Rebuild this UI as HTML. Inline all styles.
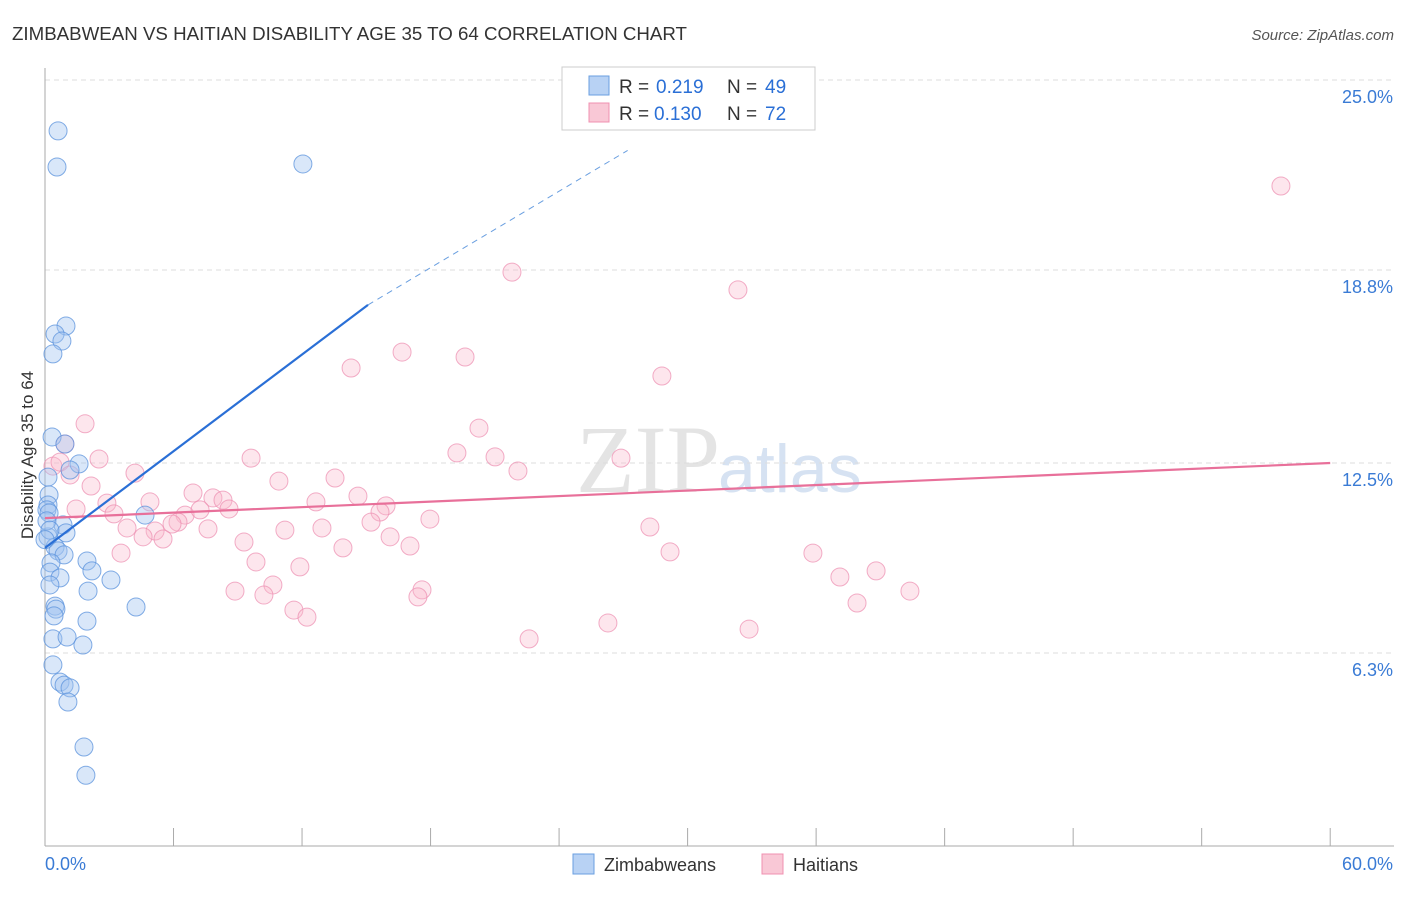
<!DOCTYPE html>
<html><head><meta charset="utf-8"><style>
body{margin:0;background:#fff;font-family:"Liberation Sans",sans-serif}
</style></head><body>
<svg width="1406" height="892" xmlns="http://www.w3.org/2000/svg" font-family="Liberation Sans, sans-serif">
<text x="12" y="40" font-size="18" fill="#333" textLength="675" lengthAdjust="spacingAndGlyphs">ZIMBABWEAN VS HAITIAN DISABILITY AGE 35 TO 64 CORRELATION CHART</text>
<text x="1394" y="40" font-size="15" fill="#555" font-style="italic" text-anchor="end">Source: ZipAtlas.com</text>
<text x="720" y="492" font-size="96" fill="#e4e4e4" font-family="Liberation Serif, serif" text-anchor="end">ZIP</text>
<text x="718" y="492" font-size="68" fill="#d6e2f2">atlas</text>
<g id="grid"></g><g id="axes"></g><g id="marks"></g>
<text transform="translate(33,455) rotate(-90)" font-size="17" fill="#333" text-anchor="middle">Disability Age 35 to 64</text>
<g>
<rect x="562" y="67" width="253" height="63" fill="#fff" stroke="#ccc"/>
<rect x="589" y="76" width="20" height="19" fill="#b8d2f4" stroke="#6a9fe0"/>
<rect x="589" y="103" width="20" height="19" fill="#f9c8d6" stroke="#f090b0"/>
<text x="619" y="93" font-size="19" fill="#333">R =</text>
<text x="656" y="93" font-size="19" fill="#2a6fd6">0.219</text>
<text x="727" y="93" font-size="19" fill="#333">N =</text>
<text x="765" y="93" font-size="19" fill="#2a6fd6">49</text>
<text x="619" y="120" font-size="19" fill="#333">R =</text>
<text x="654" y="120" font-size="19" fill="#2a6fd6">0.130</text>
<text x="727" y="120" font-size="19" fill="#333">N =</text>
<text x="765" y="120" font-size="19" fill="#2a6fd6">72</text>
</g>
<g>
<rect x="573" y="854" width="21" height="20" fill="#b8d2f4" stroke="#6a9fe0"/>
<text x="604" y="871" font-size="18" fill="#333">Zimbabweans</text>
<rect x="762" y="854" width="21" height="20" fill="#f9c8d6" stroke="#f090b0"/>
<text x="793" y="871" font-size="18" fill="#333">Haitians</text>
</g>
</svg>
<script>
const yTicks=[25,18.8,12.5,6.3];
const yTickLabels=["25.0%","18.8%","12.5%","6.3%"];
const xEndLabels=["0.0%","60.0%"];
const blueX=[0.61,0.56,12.04,0.98,0.47,0.79,0.37,0.33,0.93,1.59,1.17,0.14,0.19,0.14,0.09,0.19,4.67,0.84,0.98,0.14,0.47,0.61,0.89,0.28,1.96,2.19,0.23,0.70,3.08,2.01,0.47,0.51,0.42,4.25,1.96,0.37,1.03,1.77,0.37,0.70,0.89,1.17,1.07,1.82,1.91,0.09,0.23,0.23,0.0];
const blueY=[23.34,22.16,22.26,16.97,16.71,16.48,16.06,13.35,13.12,12.47,12.27,12.04,11.46,11.13,10.97,10.87,10.80,10.48,10.22,10.09,9.76,9.63,9.50,9.24,9.30,8.98,8.94,8.75,8.68,8.32,7.83,7.73,7.51,7.80,7.34,6.76,6.82,6.56,5.91,5.35,5.25,5.16,4.70,3.23,2.31,10.61,10.31,8.52,10.0];
const pinkX=[57.70,21.80,32.35,16.67,19.61,14.29,28.80,1.87,20.26,0.93,19.23,2.52,21.01,9.62,4.20,22.08,26.89,0.37,0.70,1.17,13.54,10.92,2.15,6.91,14.61,2.89,4.90,7.84,8.31,12.65,15.92,1.45,3.22,6.54,8.59,7.24,15.64,17.97,6.21,5.93,15.22,3.83,5.14,7.61,11.20,12.93,28.24,4.58,5.51,16.11,9.29,13.91,17.04,3.55,29.18,35.85,9.85,11.90,37.11,38.80,10.64,17.60,8.87,10.22,17.41,40.38,37.91,11.62,12.23,26.28,32.87,22.60];
const pinkY=[21.54,18.73,18.15,16.12,15.96,15.60,15.34,13.78,13.64,13.12,12.83,12.63,12.70,12.66,12.17,12.24,12.66,12.40,12.53,12.11,12.01,11.91,11.75,11.52,11.42,11.19,11.23,11.36,11.29,11.23,11.10,11.0,10.84,10.80,11.0,10.97,10.90,10.67,10.57,10.51,10.57,10.38,10.28,10.35,10.31,10.38,10.41,10.09,10.02,10.09,9.92,9.73,9.79,9.56,9.60,9.56,9.27,9.11,8.78,8.98,8.52,8.36,8.32,8.19,8.13,8.32,7.93,7.70,7.47,7.28,7.08,6.76];
const blueTrend=[0,9.73,15.08,17.66,27.2,22.7];
const pinkTrend=[0,10.7,60,12.5];
const NS="http://www.w3.org/2000/svg";
const X=v=>45+v*21.42, Y=v=>463-(v-12.5)*30.64;
function mk(t,a,p){const e=document.createElementNS(NS,t);for(const k in a)e.setAttribute(k,a[k]);document.getElementById(p).appendChild(e);return e;}
yTicks.forEach((t,i)=>{
 const g=mk('line',{x1:45,x2:1394,y1:Y(t),y2:Y(t),stroke:'#ddd','stroke-dasharray':'5,4'},'grid');
 
 
 const l=mk('text',{x:1393,y:Y(t)+23,'font-size':18,fill:'#3a7bd5','text-anchor':'end'},'axes');
 l.textContent=yTickLabels[i];
 
 
});
mk('line',{x1:45,x2:45,y1:68,y2:846,stroke:'#aaa'},'axes');
mk('line',{x1:45,x2:1394,y1:846,y2:846,stroke:'#aaa'},'axes');
for(let i=0;i<=10;i++){const t=mk('line',{x1:X(i*6),x2:X(i*6),y1:828,y2:846,stroke:'#aaa'},'axes');
 
 }
const x0=mk('text',{x:45,y:870,'font-size':18,fill:'#3a7bd5'},'axes');x0.textContent=xEndLabels[0];


const x1=mk('text',{x:1393,y:870,'font-size':18,fill:'#3a7bd5','text-anchor':'end'},'axes');x1.textContent=xEndLabels[1];


pinkX.forEach((v,i)=>{const c=mk('circle',{cx:X(v),cy:Y(pinkY[i]),r:9,fill:'rgba(248,182,202,0.35)',stroke:'rgba(236,140,175,0.7)','stroke-width':1},'marks');
 
 });
blueX.forEach((v,i)=>{const c=mk('circle',{cx:X(v),cy:Y(blueY[i]),r:9,fill:'rgba(160,196,240,0.4)',stroke:'rgba(90,145,220,0.75)','stroke-width':1},'marks');
 
 });
const pl=mk('line',{x1:X(pinkTrend[0]),y1:Y(pinkTrend[1]),x2:X(pinkTrend[2]),y2:Y(pinkTrend[3]),stroke:'#e8709a','stroke-width':2.2},'marks');


const bl=mk('line',{x1:X(blueTrend[0]),y1:Y(blueTrend[1]),x2:X(blueTrend[2]),y2:Y(blueTrend[3]),stroke:'#2a6fd6','stroke-width':2.2},'marks');


const bd=mk('line',{x1:X(blueTrend[2]),y1:Y(blueTrend[3]),x2:X(blueTrend[4]),y2:Y(blueTrend[5]),stroke:'#6a9fe0','stroke-width':1,'stroke-dasharray':'6,5'},'marks');


</script>
</body></html>
